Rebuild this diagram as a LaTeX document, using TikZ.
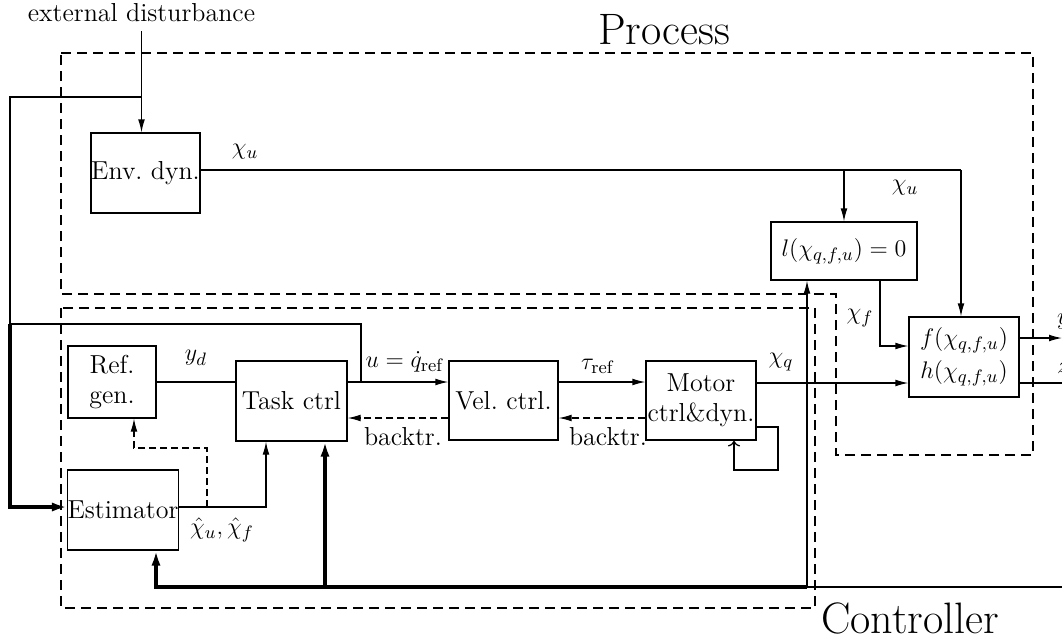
\documentclass[tikz,border=0pt]{standalone}
\usetikzlibrary{arrows.meta}
\begin{document}
\begin{tikzpicture}[x=0.5pt,y=-0.5pt,
  font=\fontsize{13}{15}\selectfont,
  blk/.style={draw, line width=0.6pt, inner sep=0pt, align=center},
  wire/.style={line width=0.6pt},
  sig/.style={line width=0.6pt, -{Latex[length=6.5pt,width=3.4pt]}},
  bus/.style={line width=1.6pt, line join=miter},
  busarr/.style={line width=1.6pt, line join=miter, -{Latex[length=7.5pt,width=4.6pt]}},
  bt/.style={line width=0.6pt, dash pattern=on 3.5pt off 2pt, -{Latex[length=6.5pt,width=3.4pt]}},
  region/.style={line width=0.6pt, dash pattern=on 5pt off 3pt},
  big/.style={font=\fontsize{22}{26}\selectfont}]
\useasboundingbox (0,0) rectangle (1062,639);
\clip (0,0) rectangle (1062,639);

% dashed enclosures
\draw[region] (61,53) -- (1033,53) -- (1033,455) -- (836,455) -- (836,294) -- (61,294) -- cycle;
\draw[region] (61,308) rectangle (815,608);
\node[big] (proc) at (664,30) {Process};
\node[big] (ctrlname) at (910,618) {Controller};

% blocks
\node[blk, minimum width=54.5pt, minimum height=40pt] (env) at (145.5,173) {Env.\ dyn.};
\node[blk, minimum width=73pt, minimum height=29pt] (lc) at (844,251) {$l(\chi_{q,f,u}) = 0$};
\node[blk, minimum width=55pt, minimum height=40pt, font=\fontsize{13}{16.5}\selectfont] (fh) at (964,357) {$f(\chi_{q,f,u})$\\$h(\chi_{q,f,u})$};
\node[blk, minimum width=55pt, minimum height=39.5pt] (motor) at (701,400.5) {Motor\\ctrl\&dyn.};
\node[blk, minimum width=54.5pt, minimum height=39.5pt] (vel) at (503.5,400.5) {Vel.\ ctrl.};
\node[blk, minimum width=55.5pt, minimum height=40pt] (task) at (291.5,401) {Task ctrl};
\node[blk, minimum width=44pt, minimum height=36pt] (ref) at (112,382) {Ref.\\gen.};
\node[blk, minimum width=55pt, minimum height=40pt] (est) at (123,510) {Estimator};
\node (dist) at (141.5,13) {external disturbance};

% junction points
\coordinate (dj) at (141,97);
\coordinate (lt) at (10,97);
\coordinate (lb) at (10,324);
\coordinate (ub) at (361,382);
\coordinate (ut) at (361,324);
\coordinate (ein) at (10,507);
\coordinate (cu) at (961,170);
\coordinate (cl) at (844,170);
\coordinate (lf) at (880,346);
\coordinate (qy) at (0,383);
\coordinate (yo) at (1062,338);
\coordinate (zo) at (1062,383);
\coordinate (sy) at (0,382);
\coordinate (by) at (0,418);
\coordinate (eo) at (266,507);
\coordinate (ed) at (207,507);
\coordinate (dk) at (207,448);
\coordinate (dr) at (134,448);
\coordinate (m1) at (778,427);
\coordinate (m2) at (778,470);
\coordinate (m3) at (734,470);
\coordinate (bR) at (1062,587);
\coordinate (bJ) at (807,587);
\coordinate (bT) at (325,587);
\coordinate (bE) at (156,587);

% disturbance and feedback to the estimator
\draw[sig] (dist.south |- 0,31) -- (dist.south |- env.north);
\draw[wire] (dj) -- (lt) -- (lb);
\draw[wire] (ub) -- (ut) -- (lb);
\draw[busarr] (lb) -- (ein) -- (est.west |- ein);

% process signals
\draw[wire] (env.east |- cu) -- (cu);
\draw[sig] (cu) -- (cu |- fh.north);
\draw[sig] (cl) -- (lc.north);
\draw[sig] (lc.south -| lf) -- (lf) -- (fh.west |- lf);
\draw[sig] (motor.east |- qy) -- (fh.west |- qy);
\draw[sig] (fh.east |- yo) -- (yo);
\draw[wire] (fh.east |- zo) -- (zo);

% controller chain
\draw[wire] (ref.east) -- (task.west |- ref.east);
\draw[sig] (task.east |- sy) -- (vel.west |- sy);
\draw[sig] (vel.east |- sy) -- (motor.west |- sy);
\draw[bt] (motor.west |- by) -- (vel.east |- by);
\draw[bt] (vel.west |- by) -- (task.east |- by);
\draw[sig] (est.east |- eo) -- (eo) -- (eo |- task.south);
\draw[bt] (ed) -- (dk) -- (dr) -- (dr |- ref.south);
\draw[wire, ->] (motor.east |- m1) -- (m1) -- (m2) -- (m3) -- (m3 |- motor.south);

% measurement bus
\draw[wire] (bR) -- (bJ);
\draw[sig] (bJ) -- (bJ |- lc.south);
\draw[busarr] (bJ) -- (bE) -- (bE |- est.south);
\draw[busarr] (bT) -- (bT |- task.south);

% signal labels
\node at (245,152) {$\chi_u$};
\node at (905,188) {$\chi_u$};
\node at (860,318) {$\chi_f$};
\node at (781,362) {$\chi_q$};
\node at (196,358) {$y_d$};
\node at (405,362) {$u=\dot q_{\mathrm{ref}}$};
\node at (598,366) {$\tau_{\mathrm{ref}}$};
\node at (403,437) {backtr.};
\node at (608,437) {backtr.};
\node at (222,530) {$\hat\chi_u,\hat\chi_f$};
\node[anchor=west] at (1050,322) {$y$};
\node[anchor=west] at (1050,368) {$z$};
\end{tikzpicture}
\end{document}
